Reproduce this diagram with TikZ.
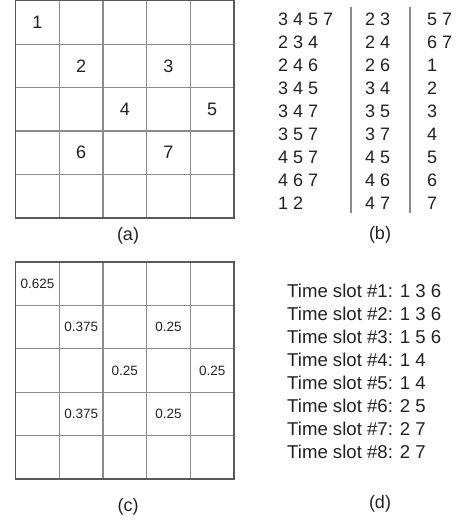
\documentclass[tikz,border=0pt]{standalone}
\usepackage{fontspec}
\setmainfont{Liberation Sans}
\usetikzlibrary{positioning}
\definecolor{rim}{HTML}{5A5A5A}
\definecolor{rule}{HTML}{8C8C8C}
\definecolor{ink}{HTML}{222222}
\newcommand{\gridtxt}{\fontsize{18}{23}\selectfont}
\newcommand{\slottxt}{\fontsize{18.6}{23}\selectfont}
\newcommand{\weighttxt}{\fontsize{13.5}{16}\selectfont}

\begin{document}
\begin{tikzpicture}[x=1pt, y=-1pt, text=ink,
    every node/.style={inner sep=0pt},
    cellnum/.style={font=\gridtxt},
    cellval/.style={font=\weighttxt},
    listrow/.style={font=\gridtxt, anchor=base west},
    caption/.style={font=\gridtxt}]
    \useasboundingbox (0,0) rectangle (461,523);
    % (a) the grid with the nodes
    \foreach \i in {1,...,4} {
      \draw[rule, line width=1.3pt] (15.7+43.66*\i,0.7) -- (15.7+43.66*\i,218);
      \draw[rule, line width=1.3pt] (15.7,0.7+43.46*\i) -- (234,0.7+43.46*\i);
    }
    \draw[rim, line width=1.3pt] (15.7,0.7) rectangle (234,218);
    \foreach \n/\c/\r in {1/0/0, 2/1/1, 3/3/1, 4/2/2, 5/4/2, 6/1/3, 7/3/3}
      \node[cellnum] (a\n) at (37.5+43.66*\c, 22.4+43.46*\r) {\n};
    \node[caption] (capa) at (128,236) {(a)};
    % (b) the three lists
    \foreach \t [count=\k from 0] in {3 4 5 7, 2 3 4, 2 4 6, 3 4 5, 3 4 7, 3 5 7, 4 5 7, 4 6 7, 1 2}
      \node[listrow] (bl\k) at (278, 25.3+23*\k) {\t};
    \foreach \t [count=\k from 0] in {2 3, 2 4, 2 6, 3 4, 3 5, 3 7, 4 5, 4 6, 4 7}
      \node[listrow] (bm\k) at (365, 25.3+23*\k) {\t};
    \foreach \t [count=\k from 0] in {5 7, 6 7, 1, 2, 3, 4, 5, 6, 7}
      \node[listrow] (br\k) at (427, 25.3+23*\k) {\t};
    \draw[rule, line width=1.3pt] (351,7) -- (351,213);
    \draw[rule, line width=1.3pt] (410,7) -- (410,213);
    \node[caption] (capb) at (380,235) {(b)};
    % (c) the grid with the weights
    \foreach \i in {1,...,4} {
      \draw[rule, line width=1.3pt] (15.7+43.66*\i,262) -- (15.7+43.66*\i,479);
      \draw[rule, line width=1.3pt] (15.7,262+43.4*\i) -- (234,262+43.4*\i);
    }
    \draw[rim, line width=1.3pt] (15.7,262) rectangle (234,479);
    \foreach \v/\c/\r [count=\k] in {0.625/0/0, 0.375/1/1, 0.25/3/1, 0.25/2/2, 0.25/4/2, 0.375/1/3, 0.25/3/3}
      \node[cellval] (c\k) at (37.5+43.66*\c, 283.7+43.4*\r) {\v};
    \node[caption] (capc) at (128,507) {(c)};
    % (d) the time slots
    \foreach \t [count=\k] in {1 3 6, 1 3 6, 1 5 6, 1 4, 1 4, 2 5, 2 7, 2 7}
      \node[listrow, font=\slottxt] (d\k) at (287, 274+23*\k) {Time slot \#\k: \t};
    \node[caption] (capd) at (380,503.5) {(d)};
\end{tikzpicture}
\end{document}
